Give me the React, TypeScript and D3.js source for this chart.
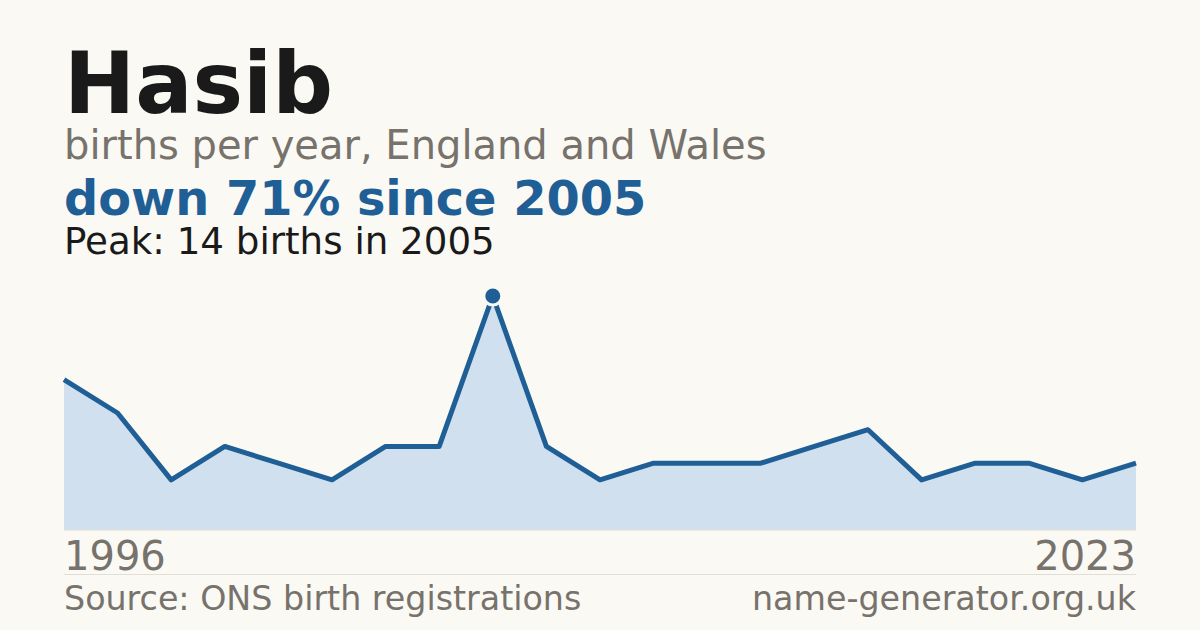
import { useMemo } from "react";
import * as d3 from "d3";

// births per year (years with fewer than 3 births are not published)
const years = [1996, 1997, 1998, 1999, 2000, 2001, 2003, 2004, 2005, 2006, 2007, 2008, 2010, 2011, 2012, 2013, 2016, 2017, 2019, 2020, 2023];
const births = [9, 7, 3, 5, 4, 3, 5, 5, 14, 5, 3, 4, 4, 4, 5, 6, 3, 4, 4, 3, 4];

const W = 1200;
const H = 630;
const left = 64;
const right = 1136;
const top = 296;
const base = 530;

const colors = {
  bg: "#faf9f4",
  ink: "#1a1a1a",
  muted: "#77726b",
  blue: "#1f5f96",
  area: "#d0e0ef",
  rule: "#e2ddd5",
};

const font = "'DejaVu Sans', sans-serif";

export default function App() {
  const x = useMemo(
    () => d3.scalePoint<number>().domain(years).range([left, right]),
    []
  );
  const y = useMemo(
    () => d3.scaleLinear().domain([0, d3.max(births) ?? 1]).range([base, top]),
    []
  );

  const pts = years.map((yr, i) => ({ yr, v: births[i] }));
  const line = d3
    .line<{ yr: number; v: number }>()
    .x((d) => x(d.yr) ?? 0)
    .y((d) => y(d.v));
  const area = d3
    .area<{ yr: number; v: number }>()
    .x((d) => x(d.yr) ?? 0)
    .y0(base)
    .y1((d) => y(d.v));

  const peakIdx = d3.maxIndex(births);
  const peak = pts[peakIdx];
  const last = births[births.length - 1];
  const change = Math.round(((peak.v - last) / peak.v) * 100);

  return (
    <svg
      width={W}
      height={H}
      style={{ position: "absolute", left: 0, top: 0, display: "block" }}
      fontFamily={font}
    >
      <rect width={W} height={H} fill={colors.bg} />

      <text x={left} y={113} fontSize={85} fontWeight="bold" fill={colors.ink}>
        Hasib
      </text>
      <text x={left} y={159} fontSize={40} fill={colors.muted}>
        births per year, England and Wales
      </text>
      <text x={left} y={215} fontSize={47.8} fontWeight="bold" fill={colors.blue}>
        down {change}% since {peak.yr}
      </text>
      <text x={left} y={254} fontSize={37.2} fill={colors.ink}>
        Peak: {peak.v} births in {peak.yr}
      </text>

      <path d={area(pts) ?? ""} fill={colors.area} />
      <line x1={left} x2={right} y1={base} y2={base} stroke={colors.rule} strokeWidth={1} />
      <path
        d={line(pts) ?? ""}
        fill="none"
        stroke={colors.blue}
        strokeWidth={5}
        strokeLinejoin="round"
      />
      <circle
        cx={x(peak.yr)}
        cy={y(peak.v)}
        r={9}
        fill={colors.blue}
        stroke={colors.bg}
        strokeWidth={3}
      />

      <text x={left} y={570} fontSize={40} fill={colors.muted}>
        {years[0]}
      </text>
      <text x={right} y={570} fontSize={40} fill={colors.muted} textAnchor="end">
        {years[years.length - 1]}
      </text>

      <line x1={left} x2={right} y1={574.5} y2={574.5} stroke={colors.rule} strokeWidth={1} />

      <text x={left} y={610} fontSize={33.3} fill={colors.muted}>
        Source: ONS birth registrations
      </text>
      <text x={right} y={610} fontSize={33.3} fill={colors.muted} textAnchor="end">
        name-generator.org.uk
      </text>
    </svg>
  );
}
